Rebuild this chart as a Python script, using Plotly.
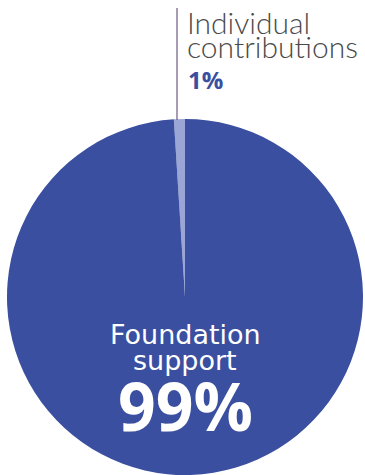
import plotly.graph_objects as go

labels = ["Individual contributions", "Foundation support"]
values = [1, 99]
colors = ["#9ca6d6", "#3a4f9f"]

fig = go.Figure()
fig.add_trace(go.Pie(
    labels=labels, values=values, sort=False, direction="clockwise",
    rotation=-360 * values[0] / sum(values), textinfo="none", hoverinfo="label+percent",
    marker=dict(colors=colors, line=dict(width=0)),
    domain=dict(x=[7/365, 363/365], y=[0, 356/475]),
    showlegend=False,
))

fig.add_shape(type="line", xref="paper", yref="paper",
              x0=177/365, x1=177/365, y0=1-8/475, y1=1-120/475,
              line=dict(color="#6e5a82", width=1.2))

def ann(text, x, y, size, color, family="DejaVu Sans", weight=400, anchor="left"):
    fig.add_annotation(xref="paper", yref="paper", x=x/365, y=1-y/475,
                       xanchor=anchor, yanchor="middle", showarrow=False,
                       text=text,
                       font=dict(family=family, size=size, color=color, weight=weight))

ann("Individual", 185, 22, 30, "#4a4a4a", family="Lato", weight=300)
ann("contributions", 185, 46, 30, "#4a4a4a", family="Lato", weight=300)
ann("<b>1%</b>", 186, 80, 24, "#3a4f9f", family="Open Sans")
ann("Foundation", 185, 334, 27, "white", anchor="center")
ann("support", 185, 360, 27, "white", anchor="center")
ann("<b>99%</b>", 185, 405, 66, "white", family="Open Sans", anchor="center")

fig.update_layout(width=365, height=475, margin=dict(l=0, r=0, t=0, b=0),
                  paper_bgcolor="white", plot_bgcolor="white")
fig.write_html("out.html")
